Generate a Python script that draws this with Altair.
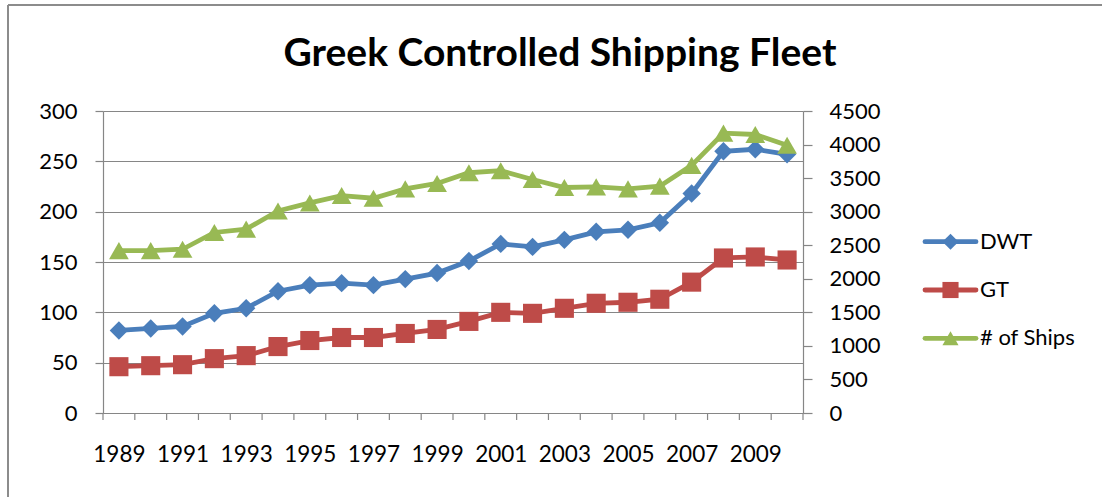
import altair as alt
import pandas as pd

# ---- data ----
years = list(range(1989, 2011))
dwt = [82, 84, 86, 99, 104, 121, 127, 129, 127, 133, 139, 151, 168, 165, 172, 180, 182, 189, 218, 260, 262, 257]
gt = [46, 47, 48, 54, 57, 66, 72, 75, 75, 79, 83, 91, 100, 99, 104, 109, 110, 113, 130, 154, 155, 152]
ships = [2420, 2420, 2440, 2690, 2740, 3010, 3130, 3240, 3200, 3340, 3420, 3580, 3610, 3480, 3360, 3370,
         3340, 3380, 3690, 4170, 4150, 3990]
series_names = ["DWT", "GT", "# of Ships"]
series_colors = ["#4a7ebb", "#be4b48", "#98b954"]
series_shapes = ["diamond", "square", "triangle-up"]
series_sizes = [340, 390, 340]
label_years = list(range(1989, 2010, 2))
left_ticks = [0, 50, 100, 150, 200, 250, 300]
right_ticks = [0, 500, 1000, 1500, 2000, 2500, 3000, 3500, 4000, 4500]
title_text = "Greek Controlled Shipping Fleet"

FONT = "Lato"
GRID = "#868686"

left_df = pd.DataFrame({
    "year": years * 2,
    "value": dwt + gt,
    "series": ["DWT"] * len(years) + ["GT"] * len(years),
})
right_df = pd.DataFrame({"year": years, "value": ships, "series": ["# of Ships"] * len(years)})
boundary_df = pd.DataFrame({"year": [years[0] - 0.5 + i for i in range(len(years) + 1)]})
legend_df = pd.DataFrame({"series": series_names, "rank": [0, 1, 2]})
title_df = pd.DataFrame({"t": [title_text]})

xscale = alt.Scale(domain=[years[0] - 0.5, years[-1] + 0.5], nice=False, zero=False)
x_axis = alt.Axis(values=label_years, format="d", ticks=False, grid=False,
                  domainColor=GRID, domainWidth=1.2, labelFont=FONT, labelFontSize=22.5,
                  labelColor="black", labelPadding=30, labelFlush=False)
x_enc = alt.X("year:Q", scale=xscale, title=None, axis=x_axis)

color = alt.Color("series:N", scale=alt.Scale(domain=series_names, range=series_colors), legend=None)
shape = alt.Shape("series:N", scale=alt.Scale(domain=series_names, range=series_shapes), legend=None)
size = alt.Size("series:N", scale=alt.Scale(domain=series_names, range=series_sizes), legend=None)

left_y = alt.Y("value:Q", scale=alt.Scale(domain=[0, 300], nice=False), title=None,
               axis=alt.Axis(orient="left", values=left_ticks, grid=True, gridColor=GRID, gridWidth=1.2,
                             domainColor=GRID, domainWidth=1.2, tickColor=GRID, tickSize=8, tickWidth=1.2,
                             labelFont=FONT, labelFontSize=22, labelColor="black", labelPadding=18))
right_y = alt.Y("value:Q", scale=alt.Scale(domain=[0, 4500], nice=False), title=None,
                axis=alt.Axis(orient="right", values=right_ticks, format="d", grid=False,
                              domainColor=GRID, domainWidth=1.2, tickColor=GRID, tickSize=9, tickWidth=1.2,
                              labelFont=FONT, labelFontSize=22, labelColor="black", labelPadding=17))

left_base = alt.Chart(left_df).encode(x=x_enc, y=left_y, color=color)
left_layer = alt.layer(
    left_base.mark_line(strokeWidth=4.8),
    left_base.mark_point(filled=True, opacity=1).encode(shape=shape, size=size),
)

right_base = alt.Chart(right_df).encode(x=x_enc, y=right_y, color=color)
right_layer = alt.layer(
    right_base.mark_line(strokeWidth=4.8),
    right_base.mark_point(filled=True, opacity=1).encode(shape=shape, size=size),
)

xticks = alt.Chart(boundary_df).mark_rule(color=GRID, strokeWidth=1.2).encode(
    x=x_enc, y=alt.value(302), y2=alt.value(309)
)

ly = alt.Y("rank:Q", scale=alt.Scale(domain=[0, 2], range=[130.7, 227.3]), axis=None)
leg_base = alt.Chart(legend_df).encode(y=ly)
legend_layer = alt.layer(
    leg_base.mark_rule(strokeWidth=4.8, strokeCap="round").encode(
        x=alt.value(822), x2=alt.value(873), color=color),
    leg_base.mark_point(filled=True, opacity=1, size=260).encode(
        x=alt.value(847.5), shape=shape, color=color),
    leg_base.mark_text(align="left", baseline="middle", font=FONT, fontSize=22, color="black").encode(
        x=alt.value(877), text="series:N"),
)

title_mark = alt.Chart(title_df).mark_text(
    align="center", baseline="alphabetic", font=FONT, fontSize=39, fontWeight="bold", color="black"
).encode(x=alt.value(457), y=alt.value(-45), text="t:N")

border = alt.layer(
    alt.Chart(title_df).mark_rule(color="#8c8c8c", strokeWidth=2).encode(
        x=alt.value(-95), x2=alt.value(999), y=alt.value(-106)),
    alt.Chart(title_df).mark_rule(color="#8c8c8c", strokeWidth=2).encode(
        x=alt.value(-95), y=alt.value(-106), y2=alt.value(386)),
)

chart = alt.layer(left_layer, right_layer, xticks, legend_layer, title_mark, border).resolve_scale(
    y="independent"
).properties(
    width=700,
    height=302,
    padding={"left": 103, "top": 111, "right": 299, "bottom": 84},
    autosize=alt.AutoSizeParams(type="none"),
    background="white",
).configure_view(stroke=None)

chart.save("out.html", embed_options={"renderer": "svg", "actions": False})
